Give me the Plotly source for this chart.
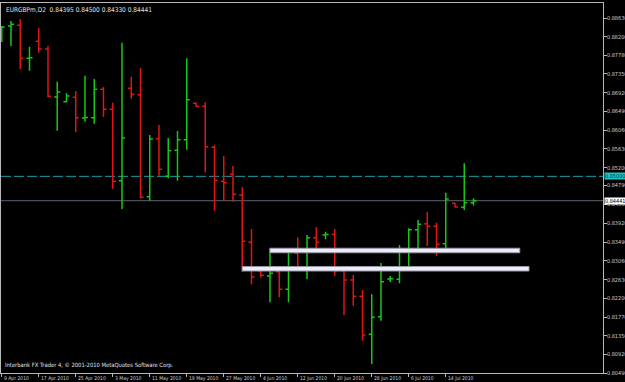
import plotly.graph_objects as go
import pandas as pd

# ---- data (EURGBPm, D2) ----
start_date = "2010-04-09"
n_bars = 52
opens = [0.88240, 0.88447, 0.88463, 0.87706, 0.88096, 0.87919, 0.86819, 0.86711, 0.86812, 0.86337,
         0.86344, 0.86995, 0.86536, 0.84899, 0.87018, 0.86871, 0.84532, 0.85862, 0.85000, 0.85596,
         0.85839, 0.86674, 0.86605, 0.85665, 0.84886, 0.85046, 0.84571, 0.83487, 0.82836, 0.82714,
         0.82813, 0.82409, 0.83235, 0.82897, 0.83592, 0.83654, 0.83670, 0.82836, 0.82622, 0.82249,
         0.81377, 0.81781, 0.82645, 0.82638, 0.83310, 0.83776, 0.83913, 0.83854, 0.83455, 0.84381,
         0.84289, 0.84395]
highs = [0.88447, 0.88561, 0.88607, 0.87972, 0.88394, 0.87995, 0.87169, 0.86903, 0.86956, 0.87307,
         0.87231, 0.87048, 0.86688, 0.88064, 0.87284, 0.87483, 0.85947, 0.86176, 0.85878, 0.86039,
         0.87706, 0.86692, 0.86697, 0.85718, 0.85466, 0.85236, 0.84748, 0.83792, 0.82868, 0.83349,
         0.82868, 0.83276, 0.83601, 0.83654, 0.83831, 0.83723, 0.83792, 0.82845, 0.82737, 0.82393,
         0.82294, 0.83012, 0.82714, 0.83425, 0.83808, 0.83998, 0.84182, 0.83936, 0.84624, 0.84392,
         0.85298, 0.84500]
lows = [0.88080, 0.87988, 0.87461, 0.87422, 0.87834, 0.86812, 0.86046, 0.86697, 0.86009, 0.86252,
        0.86206, 0.86367, 0.84716, 0.84250, 0.86780, 0.84496, 0.84441, 0.85014, 0.84954, 0.84899,
        0.85610, 0.86601, 0.85092, 0.84211, 0.84441, 0.84418, 0.82813, 0.82524, 0.82675, 0.82111,
        0.82226, 0.82111, 0.82836, 0.82638, 0.83248, 0.83556, 0.82721, 0.81820, 0.82033, 0.81230,
        0.80696, 0.81689, 0.82576, 0.82547, 0.82920, 0.83329, 0.83402, 0.83173, 0.83248, 0.84289,
        0.84227, 0.84330]
closes = [0.88424, 0.88486, 0.87706, 0.87720, 0.87919, 0.86835, 0.86933, 0.86841, 0.86344, 0.86348,
          0.86995, 0.86536, 0.84886, 0.85878, 0.86880, 0.84519, 0.85855, 0.85161, 0.85587, 0.85839,
          0.86757, 0.86605, 0.85679, 0.84908, 0.84853, 0.84587, 0.83510, 0.82691, 0.82730, 0.82776,
          0.82409, 0.83257, 0.82891, 0.83592, 0.83487, 0.83666, 0.82836, 0.82622, 0.82249, 0.81361,
          0.81767, 0.82583, 0.82652, 0.83294, 0.83776, 0.83902, 0.83856, 0.83441, 0.84480, 0.84296,
          0.84395, 0.84441]

price_ticks = ["0.88630", "0.88200", "0.87780", "0.87350", "0.86920", "0.86490", "0.86060",
               "0.85630", "0.85200", "0.84790", "0.84360", "0.83920", "0.83490", "0.83060",
               "0.82630", "0.82200", "0.81770", "0.81350", "0.80920", "0.80490"]

hline_level = 0.85000
bid_level = 0.84441
band_start = [29, 26]
band_end = [56, 57]
band_level = [0.83299, 0.82881]

title_text = "EURGBPm,D2  0.84395 0.84500 0.84330 0.84441"
copyright_text = "Interbank FX Trader 4, \u00a9 2001-2010 MetaQuotes Software Corp."

# ---- build ----
dates = pd.date_range(start_date, periods=n_bars, freq="2D")
xs = list(range(n_bars))
tick_idx = xs[::4]
tick_txt = [f"{dates[i].day} {dates[i].strftime('%b %Y')}" for i in tick_idx]

FONT = "DejaVu Sans Condensed, DejaVu Sans, sans-serif"
TXT = "#d0d0d0"

fig = go.Figure()
fig.add_trace(go.Ohlc(
    x=xs, open=opens, high=highs, low=lows, close=closes,
    increasing=dict(line=dict(color="#16c816", width=1.5)),
    decreasing=dict(line=dict(color="#e01414", width=1.5)),
    tickwidth=0.33, hoverinfo="skip", showlegend=False,
))

shapes = []
shapes.append(dict(type="line", xref="paper", x0=0, x1=1, yref="y", y0=hline_level, y1=hline_level,
                   line=dict(color="#18a2a8", width=1, dash="10px,3px"), layer="below"))
shapes.append(dict(type="line", xref="paper", x0=0, x1=1, yref="y", y0=bid_level, y1=bid_level,
                   line=dict(color="#5c6472", width=1), layer="below"))
half = 0.00052
for s, e, lv in zip(band_start, band_end, band_level):
    shapes.append(dict(type="rect", xref="x", yref="y", x0=s, x1=e, y0=lv - half, y1=lv + half,
                       fillcolor="#ececf8", line=dict(color="#9898a8", width=1), layer="above"))

annotations = [
    dict(text=title_text, xref="paper", yref="paper", x=0, y=1, xanchor="left", yanchor="top",
         xshift=3, yshift=-1, showarrow=False, font=dict(family=FONT, size=6.5, color="#e0e0e0")),
    dict(text=copyright_text, xref="paper", yref="paper", x=0, y=0, xanchor="left", yanchor="bottom",
         xshift=2, yshift=2, showarrow=False, font=dict(family=FONT, size=5.8, color="#e0e0e0")),
]
# date labels (left-aligned at tick, as in MetaTrader)
for i, t in zip(tick_idx, tick_txt):
    annotations.append(dict(text=t, xref="x", yref="paper", x=i, y=0, xanchor="left", yanchor="top",
                            xshift=1, yshift=-1, showarrow=False, borderpad=0,
                            font=dict(family=FONT, size=5, color=TXT)))
# price labels
for t in price_ticks:
    annotations.append(dict(text=t, xref="paper", yref="y", x=1, y=float(t), xanchor="left",
                            yanchor="middle", xshift=3, showarrow=False, borderpad=0,
                            font=dict(family=FONT, size=5.5, color=TXT)))
# level boxes on the price scale
annotations.append(dict(text=f"{hline_level:.5f}", xref="paper", yref="y", x=1, y=hline_level,
                        xanchor="left", yanchor="middle", xshift=1, showarrow=False,
                        bgcolor="#1cc4c8", borderpad=0, font=dict(family=FONT, size=5.5, color="#0a3a3a")))
annotations.append(dict(text=f"{bid_level:.5f}", xref="paper", yref="y", x=1, y=bid_level,
                        xanchor="left", yanchor="middle", xshift=1, showarrow=False,
                        bgcolor="#ffffff", borderpad=0, font=dict(family=FONT, size=5.5, color="#000000")))

fig.update_layout(
    width=625, height=382,
    margin=dict(l=1, r=22, t=3, b=9, autoexpand=False),
    paper_bgcolor="#000000", plot_bgcolor="#000000",
    showlegend=False, shapes=shapes, annotations=annotations,
    font=dict(family=FONT, size=6, color=TXT),
    xaxis=dict(range=[-0.08, 65.0], rangeslider=dict(visible=False), showgrid=False, zeroline=False,
               showline=True, linecolor="#b8b8b8", linewidth=1, mirror=True,
               tickmode="array", tickvals=tick_idx, ticks="outside", ticklen=3, tickcolor="#b8b8b8",
               showticklabels=False, automargin=False),
    yaxis=dict(range=[0.80490, 0.88975], side="right", showgrid=False, zeroline=False,
               showline=True, linecolor="#b8b8b8", linewidth=1, mirror=True,
               tickmode="array", tickvals=[float(t) for t in price_ticks],
               ticks="outside", ticklen=3, tickcolor="#b8b8b8",
               showticklabels=False, automargin=False),
)

fig.write_html("out.html")
